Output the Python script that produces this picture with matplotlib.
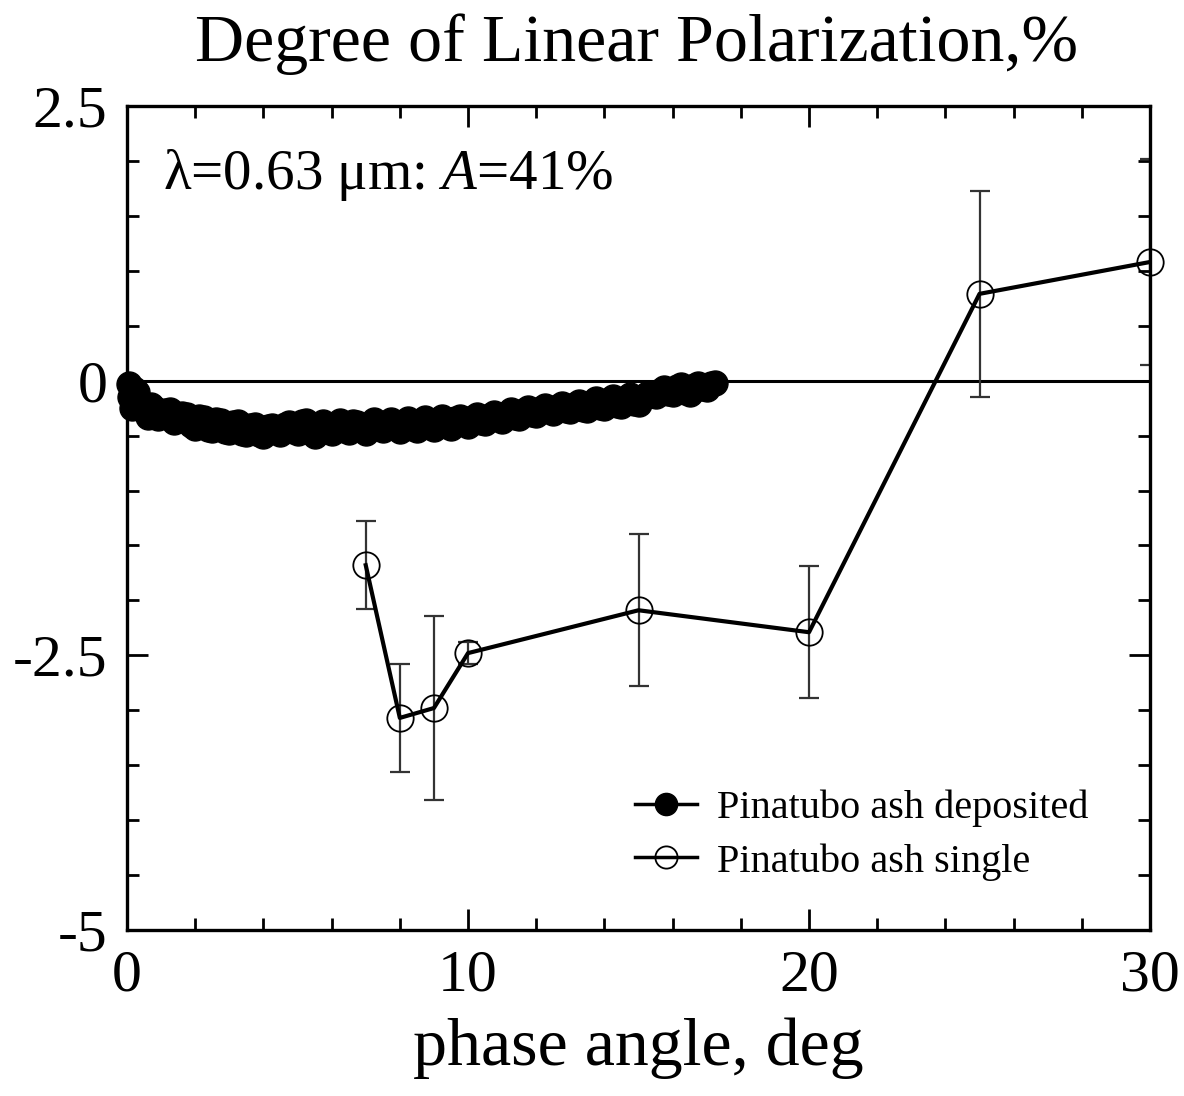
import matplotlib
matplotlib.use("Agg")
import matplotlib.pyplot as plt
from matplotlib.ticker import MultipleLocator
from matplotlib.lines import Line2D

plt.rcParams['font.family'] = ['Liberation Serif', 'DejaVu Serif']
plt.rcParams['mathtext.fontset'] = 'custom'
plt.rcParams['mathtext.rm'] = 'Liberation Serif'
plt.rcParams['mathtext.it'] = 'Liberation Serif:italic'

# Pinatubo ash deposited (filled circles)
dep_x = [0.05, 0.1, 0.15, 0.2, 0.3, 0.45, 0.6, 0.7, 0.8, 0.9, 1.0, 1.12, 1.25, 1.37, 1.5, 1.62,
         1.75, 1.87, 2.0, 2.12, 2.25, 2.37, 2.5, 2.62, 2.75, 2.87, 3.0, 3.12, 3.25, 3.37, 3.5,
         3.62, 3.75, 3.87, 4.0, 4.12, 4.25, 4.37, 4.5, 4.62, 4.75, 4.87, 5.0, 5.12, 5.25, 5.37,
         5.5, 5.62, 5.75, 5.87, 6.0, 6.12, 6.25, 6.37, 6.5, 6.62, 6.75, 6.87, 7.0, 7.12, 7.25,
         7.37, 7.5, 7.62, 7.75, 7.87, 8.0, 8.12, 8.25, 8.37, 8.5, 8.62, 8.75, 8.87, 9.0, 9.12,
         9.25, 9.37, 9.5, 9.62, 9.75, 9.87, 10.0, 10.12, 10.25, 10.37, 10.5, 10.62, 10.75,
         10.87, 11.0, 11.12, 11.25, 11.37, 11.5, 11.62, 11.75, 11.87, 12.0, 12.12, 12.25, 12.37,
         12.5, 12.62, 12.75, 12.87, 13.0, 13.12, 13.25, 13.37, 13.5, 13.62, 13.75, 13.87, 14.0,
         14.12, 14.25, 14.37, 14.5, 14.62, 14.75, 14.87, 15.0, 15.12, 15.25, 15.37, 15.5, 15.62,
         15.75, 15.87, 16.0, 16.12, 16.25, 16.37, 16.5, 16.62, 16.75, 16.87, 17.0, 17.12, 17.25]
dep_y = [-0.03, -0.15, -0.25, -0.08, -0.10, -0.20, -0.33, -0.22, -0.25, -0.34, -0.32, -0.28,
         -0.27, -0.38, -0.36, -0.30, -0.31, -0.40, -0.43, -0.33, -0.34, -0.44, -0.45, -0.36,
         -0.37, -0.46, -0.47, -0.39, -0.38, -0.48, -0.49, -0.41, -0.40, -0.49, -0.50, -0.42,
         -0.41, -0.47, -0.49, -0.40, -0.39, -0.46, -0.48, -0.38, -0.37, -0.47, -0.50, -0.42,
         -0.38, -0.46, -0.48, -0.40, -0.37, -0.45, -0.47, -0.38, -0.39, -0.44, -0.48, -0.41,
         -0.36, -0.43, -0.45, -0.39, -0.36, -0.42, -0.46, -0.38, -0.35, -0.43, -0.45, -0.37,
         -0.34, -0.42, -0.44, -0.36, -0.33, -0.41, -0.43, -0.35, -0.33, -0.39, -0.41, -0.34,
         -0.31, -0.38, -0.39, -0.32, -0.29, -0.35, -0.37, -0.30, -0.27, -0.33, -0.34, -0.28,
         -0.25, -0.30, -0.31, -0.26, -0.23, -0.28, -0.29, -0.24, -0.21, -0.27, -0.28, -0.22,
         -0.19, -0.26, -0.27, -0.20, -0.17, -0.24, -0.25, -0.18, -0.15, -0.22, -0.23, -0.16,
         -0.13, -0.20, -0.21, -0.15, -0.12, -0.13, -0.14, -0.09, -0.07, -0.11, -0.12, -0.06,
         -0.04, -0.10, -0.12, -0.05, -0.03, -0.07, -0.08, -0.03, -0.02]

# Pinatubo ash single (open circles with error bars)
sng_x = [7, 8, 9, 10, 15, 20, 25, 30]
sng_y = [-1.68, -3.07, -2.98, -2.48, -2.09, -2.29, 0.79, 1.08]
sng_err = [0.40, 0.49, 0.84, 0.10, 0.69, 0.60, 0.94, 0.94]

x_ticks = [0, 10, 20, 30]
y_ticks = [-5, -2.5, 0, 2.5]
y_ticklabels = ['-5', '-2.5', '0', '2.5']

fig = plt.figure(figsize=(11.84, 10.96), dpi=100)
ax = fig.add_axes([0.1073, 0.1515, 0.8640, 0.7518])

ax.axhline(0, color='black', lw=2.2, zorder=1)

ax.plot(dep_x, dep_y, 'o', color='black', markersize=18, clip_on=False, zorder=3)

ax.errorbar(sng_x, sng_y, yerr=sng_err, fmt='none', ecolor='#333333', elinewidth=1.6,
            capsize=7.5, capthick=1.6, zorder=2, clip_on=True)
ax.plot(sng_x, sng_y, '-', color='black', lw=3, zorder=4)
ax.plot(sng_x, sng_y, 'o', mfc='none', mec='black', mew=1.3, markersize=19, zorder=5,
        clip_on=False)

h1 = Line2D([], [], color='black', lw=2.5, marker='o', markersize=16, mfc='black', mec='black')
h2 = Line2D([], [], color='black', lw=2.5, marker='o', markersize=16, mfc='none', mec='black', mew=1.3)
ax.legend([h1, h2], ['Pinatubo ash deposited', 'Pinatubo ash single'],
          loc='lower right', bbox_to_anchor=(0.94, 0.06), frameon=False, fontsize=29,
          handlelength=1.55, handletextpad=0.5, labelspacing=0.4,
          borderpad=0, borderaxespad=0)

ax.set_xlim(0, 30)
ax.set_ylim(-5, 2.5)
ax.set_xticks(x_ticks)
ax.set_yticks(y_ticks)
ax.set_yticklabels(y_ticklabels)
ax.xaxis.set_minor_locator(MultipleLocator(2))
ax.yaxis.set_minor_locator(MultipleLocator(0.5))
ax.tick_params(which='both', direction='in', top=True, right=True, width=2, labelsize=43)
ax.tick_params(which='major', length=15, pad=14)
ax.tick_params(which='minor', length=8.5)
for s in ax.spines.values():
    s.set_linewidth(2.4)

ax.text(0.035, 0.916, r'λ=0.63 μm: $\mathit{A}$=41%', transform=ax.transAxes,
        fontsize=41, va='center', ha='left')

fig.text(0.538, 0.960, 'Degree of Linear Polarization,%', fontsize=49, ha='center', va='center')
ax.set_xlabel('phase angle, deg', fontsize=49, labelpad=10)

fig.savefig('out.png', dpi=100)
